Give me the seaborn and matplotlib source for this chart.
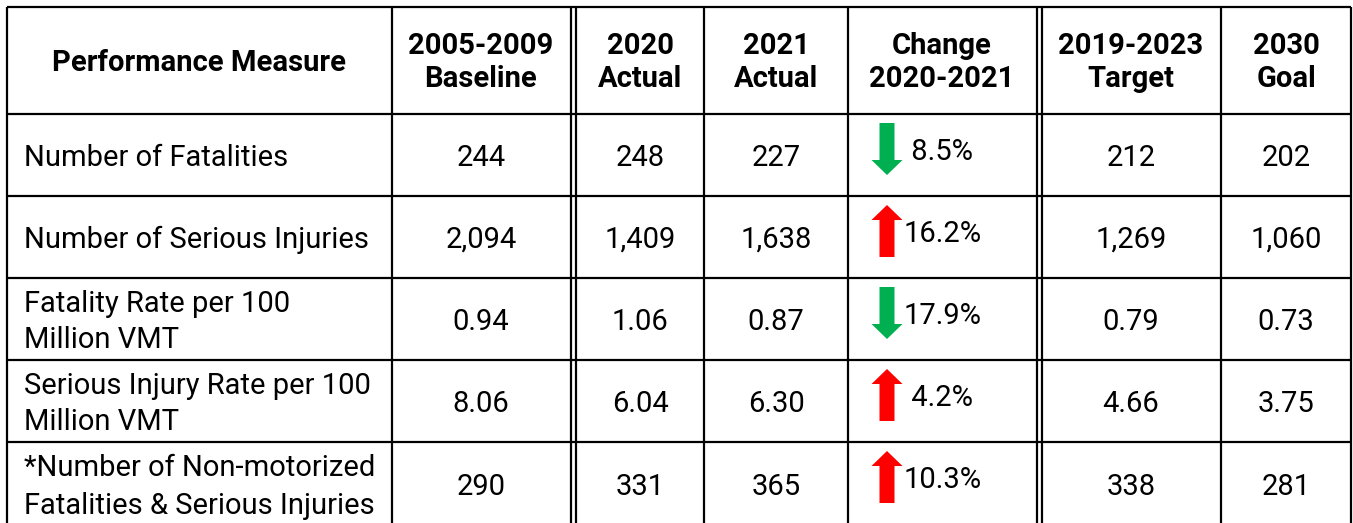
import matplotlib.pyplot as plt
import seaborn as sns
from matplotlib.patches import FancyArrow

# table content
headers = ["Performance Measure", "2005-2009\nBaseline", "2020\nActual", "2021\nActual",
           "Change\n2020-2021", "2019-2023\nTarget", "2030\nGoal"]
measures = ["Number of Fatalities",
            "Number of Serious Injuries",
            "Fatality Rate per 100\nMillion VMT",
            "Serious Injury Rate per 100\nMillion VMT",
            "*Number of Non-motorized\nFatalities & Serious Injuries"]
baseline = [244, 2094, 0.94, 8.06, 290]
actual_2020 = [248, 1409, 1.06, 6.04, 331]
actual_2021 = [227, 1638, 0.87, 6.30, 365]
change_pct = [-8.5, 16.2, -17.9, 4.2, 10.3]
target = [212, 1269, 0.79, 4.66, 338]
goal = [202, 1060, 0.73, 3.75, 281]
row_fmt = ["{:,.0f}", "{:,.0f}", "{:.2f}", "{:.2f}", "{:,.0f}"]

sns.set_theme(style="white")
plt.rcParams['font.family'] = ['Roboto', 'DejaVu Sans']

W, H = 1353, 523
fig = plt.figure(figsize=(W / 100, H / 100), dpi=100)
ax = fig.add_axes([0, 0, 1, 1])
ax.set_xlim(0, W)
ax.set_ylim(H, 0)
ax.axis('off')

# grid geometry (pixel-like coordinates)
left, right, top = 7, 1351, 7
col_lines = [392, 704, 848, 1221]
double_lines = [(571, 576), (1037, 1042)]
row_lines = [114, 196, 278, 360, 442]
col_centers = [None, 481, 640, 776, 942, 1131, 1286]
row_centers = [155, 237, 319, 401, 484]
lw = 1.6
fs = 21

for x in [left, right] + col_lines + [x for pair in double_lines for x in pair]:
    ax.plot([x, x], [top, H + 5], color='black', lw=lw, solid_capstyle='butt')
for y in [top] + row_lines:
    ax.plot([left, right], [y, y], color='black', lw=lw, solid_capstyle='butt')

# header
for j, h in enumerate(headers):
    lines = h.split("\n")
    ys = [60] if len(lines) == 1 else [43, 76]
    cx = (left + col_lines[0]) / 2 if j == 0 else col_centers[j]
    for t, yy in zip(lines, ys):
        ax.text(cx, yy, t, ha='center', va='center_baseline', fontsize=fs,
                fontweight='bold', color='black')

# measure labels
for i, m in enumerate(measures):
    lines = m.split("\n")
    if len(lines) == 1:
        ys = [row_centers[i]]
    else:
        ys = [row_centers[i] - 18.5, row_centers[i] + 18.5]
    for t, yy in zip(lines, ys):
        ax.text(24, yy, t, ha='left', va='center_baseline', fontsize=fs,
                color='black')

# numeric columns
num_cols = {1: baseline, 2: actual_2020, 3: actual_2021, 5: target, 6: goal}
for j, vals in num_cols.items():
    for i, v in enumerate(vals):
        ax.text(col_centers[j], row_centers[i], row_fmt[i].format(v), ha='center',
                va='center_baseline', fontsize=fs, color='black')

# change column with arrows
for i, c in enumerate(change_pct):
    row_top = row_lines[i]
    y0, y1 = row_top + 9, row_top + 61
    if c < 0:
        arr = FancyArrow(887, y0, 0, y1 - y0, width=15, head_width=31, head_length=15,
                         length_includes_head=True, color='#00B050', lw=0)
    else:
        arr = FancyArrow(887, y1, 0, y0 - y1, width=15, head_width=31, head_length=15,
                         length_includes_head=True, color='#FF0000', lw=0)
    ax.add_patch(arr)
    label = f"{abs(c):.1f}%"
    if abs(c) < 10:
        label = " " + label
    ax.text(904, row_top + 35, label, ha='left', va='center_baseline',
            fontsize=fs, color='black')

plt.savefig('out.png', dpi=100)
